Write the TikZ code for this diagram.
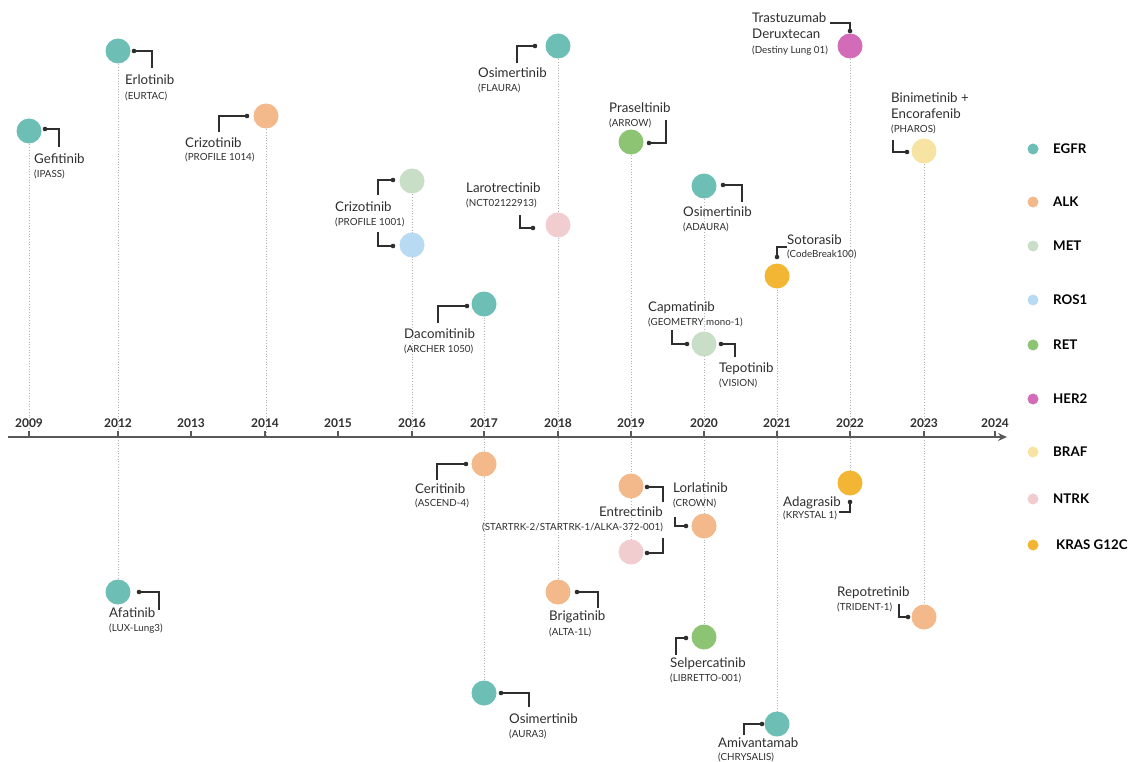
\documentclass[tikz,border=0pt]{standalone}
\usepackage{fontspec}
\setmainfont{Lato}
\usetikzlibrary{arrows.meta}
\pgfdeclarelayer{background}
\pgfsetlayers{background,main}
\definecolor{egfr}{HTML}{6DBFB5}
\definecolor{alk}{HTML}{F4B98A}
\definecolor{met}{HTML}{C9DEC7}
\definecolor{ros}{HTML}{B8DAF3}
\definecolor{ret}{HTML}{8DC473}
\definecolor{her}{HTML}{D26BB8}
\definecolor{braf}{HTML}{F7E3A2}
\definecolor{ntrk}{HTML}{F2CDD0}
\definecolor{kras}{HTML}{F2B634}
\definecolor{ink}{HTML}{2E2E2E}
\tikzset{
  mk/.style={circle,minimum size=25pt,inner sep=0,draw=none},
  lgd/.style={circle,minimum size=11pt,inner sep=0,draw=none},
  lead/.style={draw=ink,line width=1.2pt},
  leaddot/.style={fill=ink},
  vline/.style={draw=black!30,line width=0.7pt,dotted},
  nm/.style={anchor=base west,inner sep=0,text=ink,font=\fontsize{13.3}{15}\selectfont,yshift=-4.8pt},
  nmr/.style={nm,anchor=base east},
  tr/.style={anchor=base west,inner sep=0,text=ink,font=\fontsize{9.8}{11}\selectfont,yshift=-3.5pt},
  trr/.style={tr,anchor=base east},
  yr/.style={anchor=base,inner sep=0,text=ink,font=\fontsize{12}{13}\selectfont\bfseries,yshift=-4.3pt},
  lgt/.style={anchor=base west,inner sep=0,text=black,font=\fontsize{13.3}{15}\selectfont\bfseries,yshift=-4.8pt},
  tick/.style={draw=black!65,line width=1.2pt},
}
\newcommand\leadh[3]{\coordinate (#1d) at #2; \coordinate (#1e) at #3; \draw[lead] (#1d) -| (#1e); \fill[leaddot] (#1d) circle (2.3pt);}
\newcommand\leadv[3]{\coordinate (#1d) at #2; \coordinate (#1e) at #3; \draw[lead] (#1d) |- (#1e); \fill[leaddot] (#1d) circle (2.3pt);}
\begin{document}
\begin{tikzpicture}[x=1pt,y=-1pt]
\useasboundingbox (0,0) rectangle (1129,762);
% axis
\coordinate (axs) at (8,437);
\coordinate (axe) at (1007,437);
\draw[draw=black!65,line width=2pt,-{Stealth[length=9pt,width=8pt]}] (axs) -- (axe);
\foreach \yy/\xx in {2009/29,2012/118,2013/191,2014/265,2015/338,2016/412,2017/484,2018/558,2019/631,2020/704,2021/777,2022/850,2023/924,2024/995}{
  \draw[tick] (\xx,431) -- (\xx,437);
  \node[yr] (y\yy) at (\xx,423) {\yy};
}
% circles
\node[mk,fill=egfr] (gef) at (29,131) {};
\node[mk,fill=egfr] (erl) at (118,51) {};
\node[mk,fill=alk] (criz) at (266,116) {};
\node[mk,fill=met] (cmet) at (412,181) {};
\node[mk,fill=ros] (cros) at (412,245) {};
\node[mk,fill=egfr] (osf) at (558,46) {};
\node[mk,fill=ntrk] (laro) at (558,225) {};
\node[mk,fill=ret] (pras) at (631,142) {};
\node[mk,fill=her] (tras) at (850,46) {};
\node[mk,fill=braf] (bini) at (924,151) {};
\node[mk,fill=egfr] (osa) at (704,186) {};
\node[mk,fill=kras] (soto) at (777,276) {};
\node[mk,fill=egfr] (daco) at (484,304) {};
\node[mk,fill=met] (capm) at (704,344) {};
\node[mk,fill=alk] (ceri) at (484,464) {};
\node[mk,fill=alk] (enta) at (631,486) {};
\node[mk,fill=ntrk] (entn) at (631,552) {};
\node[mk,fill=alk] (lorl) at (704,526) {};
\node[mk,fill=alk] (brig) at (558,592) {};
\node[mk,fill=kras] (adag) at (850,483) {};
\node[mk,fill=alk] (repo) at (924,617) {};
\node[mk,fill=ret] (selp) at (704,637) {};
\node[mk,fill=egfr] (osau) at (484,693) {};
\node[mk,fill=egfr] (amiv) at (777,724) {};
\node[mk,fill=egfr] (afa) at (118,592) {};
% dotted verticals
\begin{pgfonlayer}{background}
\draw[vline] (gef.center) -- (gef.center |- axs);
\draw[vline] (erl.center) -- (afa.center);
\draw[vline] (criz.center) -- (criz.center |- axs);
\draw[vline] (cmet.center) -- (cmet.center |- axs);
\draw[vline] (daco.center) -- (osau.center);
\draw[vline] (osf.center) -- (brig.center);
\draw[vline] (pras.center) -- (entn.center);
\draw[vline] (osa.center) -- (selp.center);
\draw[vline] (soto.center) -- (amiv.center);
\draw[vline] (tras.center) -- (adag.center);
\draw[vline] (bini.center) -- (repo.center);
\end{pgfonlayer}
% leader lines
\leadh{gefl}{(45,129)}{(59,147)}
\leadh{erll}{(134,51)}{(152,68)}
\leadh{crizl}{(247,116)}{(219,132)}
\leadh{cmetl}{(393,180)}{(378,195)}
\leadh{crosl}{(393,246)}{(378,232)}
\leadh{osfl}{(535,46)}{(517,63)}
\leadh{larol}{(533,228)}{(520,215)}
\leadh{prasl}{(649,143)}{(666,120)}
\leadv{trasl}{(850,31)}{(830,23)}
\leadh{binil}{(907,152)}{(893,140)}
\leadh{osal}{(723,185)}{(742,202)}
\leadv{sotol}{(777,257)}{(787,247)}
\leadh{dacol}{(467,306)}{(438,323)}
\leadh{capml}{(687,344)}{(672,330)}
\leadh{tepol}{(721,344)}{(735,357)}
\leadh{ceril}{(466,464)}{(437,480)}
\leadh{ental}{(647,487)}{(663,502)}
\leadh{entnl}{(647,553)}{(663,538)}
\leadh{lorll}{(686,526)}{(675,517)}
\leadh{brigl}{(577,592)}{(598,608)}
\leadv{adagl}{(850,502)}{(839,512)}
\leadh{repol}{(908,617)}{(899,604)}
\leadh{selpl}{(686,638)}{(676,655)}
\leadh{osaul}{(501,693)}{(529,707)}
\leadh{amivl}{(762,724)}{(744,735)}
\leadh{afal}{(139,592)}{(159,610)}
% labels
\node[nm] (tgef) at (34,159) {Gefitinib};
\node[tr] (sgef) at (34,174) {(IPASS)};
\node[nm] (terl) at (125,80) {Erlotinib};
\node[tr] (serl) at (125,96) {(EURTAC)};
\node[nm] (tcriz) at (185,143) {Crizotinib};
\node[tr] (scriz) at (185,157) {(PROFILE 1014)};
\node[nm] (tcr2) at (335,207) {Crizotinib};
\node[tr] (scr2) at (335,222) {(PROFILE 1001)};
\node[nm] (tosf) at (478,73) {Osimertinib};
\node[tr] (sosf) at (478,88) {(FLAURA)};
\node[nm] (tlaro) at (466,188) {Larotrectinib};
\node[tr] (slaro) at (466,203) {(NCT02122913)};
\node[nm] (tpras) at (609,108) {Praseltinib};
\node[tr] (spras) at (609,123) {(ARROW)};
\node[nm] (ttras) at (752,18) {Trastuzumab};
\node[nm] (ttras2) at (752,34) {Deruxtecan};
\node[tr] (stras) at (752,50) {(Destiny Lung 01)};
\node[nm] (tbini) at (891,98) {Binimetinib +};
\node[nm] (tbini2) at (891,114) {Encorafenib};
\node[tr] (sbini) at (891,129) {(PHAROS)};
\node[nm] (tosa) at (683,212) {Osimertinib};
\node[tr] (sosa) at (683,227) {(ADAURA)};
\node[nm] (tsoto) at (787,240) {Sotorasib};
\node[tr] (ssoto) at (787,254) {(CodeBreak100)};
\node[nm] (tdaco) at (404,334) {Dacomitinib};
\node[tr] (sdaco) at (404,349) {(ARCHER 1050)};
\node[nm] (tcapm) at (648,307) {Capmatinib};
\node[tr] (scapm) at (648,322) {(GEOMETRY mono-1)};
\node[nm] (ttepo) at (719,368) {Tepotinib};
\node[tr] (stepo) at (719,383) {(VISION)};
\node[nm] (tceri) at (415,489) {Ceritinib};
\node[tr] (sceri) at (415,503) {(ASCEND-4)};
\node[nmr] (tentr) at (663,512) {Entrectinib};
\node[trr] (sentr) at (663,527) {(STARTRK-2/STARTRK-1/ALKA-372-001)};
\node[nm] (tlorl) at (673,488) {Lorlatinib};
\node[tr] (slorl) at (673,503) {(CROWN)};
\node[nm] (tbrig) at (549,616) {Brigatinib};
\node[tr] (sbrig) at (549,632) {(ALTA-1L)};
\node[nm] (tadag) at (783,502) {Adagrasib};
\node[tr] (sadag) at (783,515) {(KRYSTAL 1)};
\node[nm] (trepo) at (837,592) {Repotretinib};
\node[tr] (srepo) at (837,607) {(TRIDENT-1)};
\node[nm] (tselp) at (670,663) {Selpercatinib};
\node[tr] (sselp) at (670,678) {(LIBRETTO-001)};
\node[nm] (tosau) at (509,719) {Osimertinib};
\node[tr] (sosau) at (509,734) {(AURA3)};
\node[nm] (tamiv) at (718,743) {Amivantamab};
\node[tr] (samiv) at (718,757) {(CHRYSALIS)};
\node[nm] (tafa) at (109,613) {Afatinib};
\node[tr] (safa) at (109,628) {(LUX-Lung3)};
% legend
\foreach \nn/\cc/\yy/\xx/\tt in {l1/egfr/149/1053/EGFR, l2/alk/202/1053/ALK, l3/met/246/1053/MET, l4/ros/300/1053/ROS1, l5/ret/345/1053/RET, l6/her/399/1053/HER2, l7/braf/452/1053/BRAF, l8/ntrk/499/1053/NTRK, l9/kras/545/1056/KRAS G12C}{
  \node[lgd,fill=\cc] (\nn) at (1033,\yy) {};
  \node[lgt] (\nn t) at (\xx,\yy) {\tt};
}
\end{tikzpicture}
\end{document}
